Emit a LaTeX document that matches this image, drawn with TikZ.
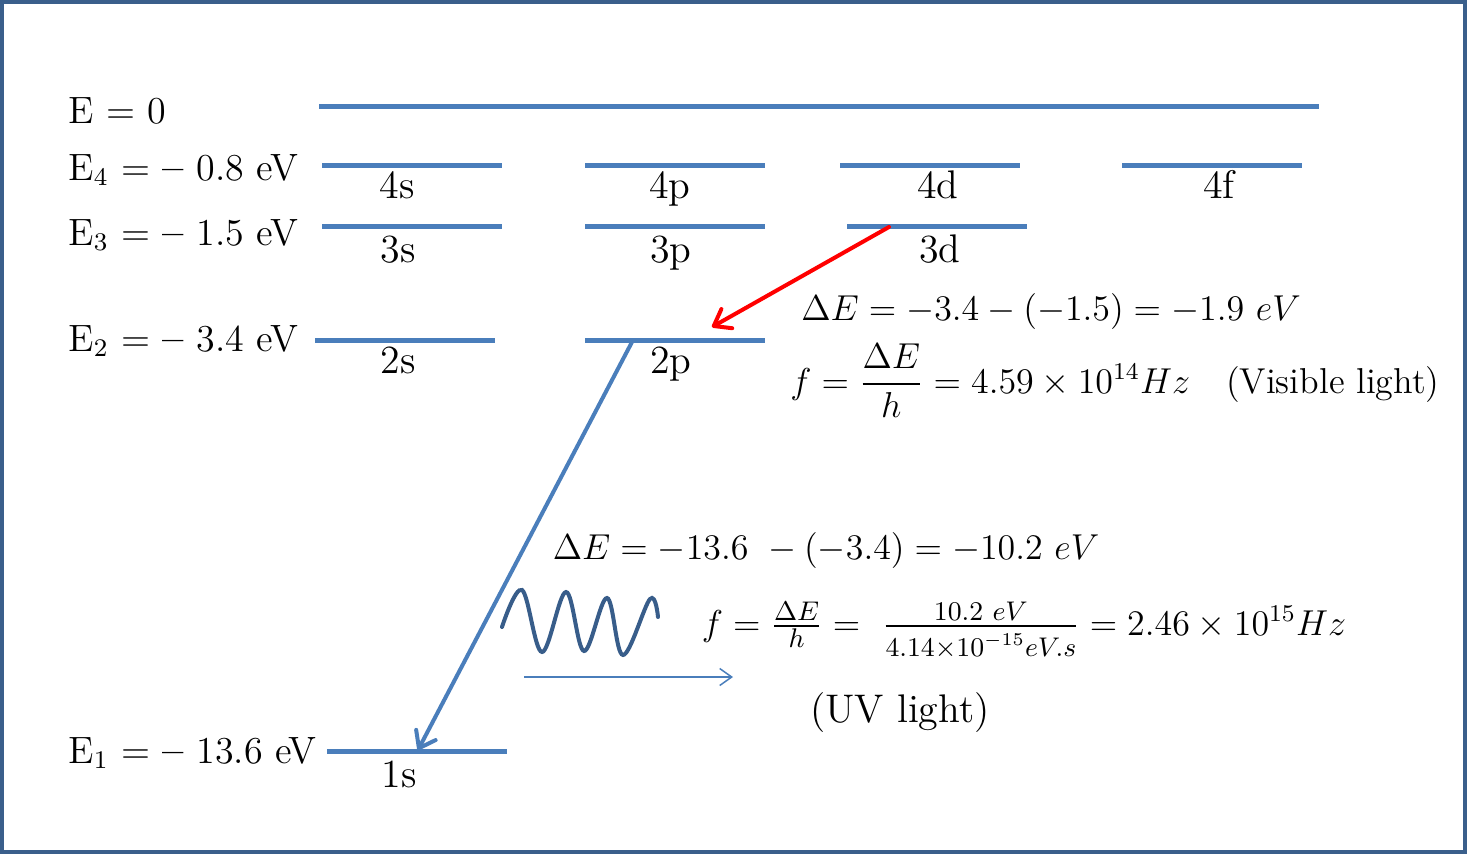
\documentclass[tikz,border=0pt]{standalone}
\usepackage{amsmath}
\usetikzlibrary{arrows.meta}
\definecolor{lvl}{HTML}{4A7EBB}
\definecolor{framecol}{HTML}{3A5F8B}
\definecolor{wavecol}{HTML}{385D8A}
\newcommand{\smallpart}[1]{\mbox{\fontsize{9}{11}\selectfont $#1$}}
\tikzset{
  level/.style={lvl, line width=5pt},
  lbl/.style={font=\fontsize{12}{14}\selectfont, scale=3.33, anchor=base, inner sep=0pt},
  elbl/.style={font=\fontsize{12}{14}\selectfont, scale=3.17, anchor=base west, inner sep=0pt},
  eqn/.style={font=\fontsize{12}{14}\selectfont, scale=3, anchor=base, inner sep=0pt},
  redarrow/.style={red, line width=4pt, line cap=round, -{Straight Barb[round,length=15pt,width=22pt]}},
  bluearrow/.style={lvl, line width=4pt, line cap=round, -{Straight Barb[round,length=15pt,width=22pt]}},
  thinarrow/.style={lvl, line width=1.5pt, -{Straight Barb[length=12pt,width=17pt]}},
  wave/.style={wavecol, line width=4pt, line cap=round},
}
\begin{document}
\begin{tikzpicture}[x=1pt,y=-1pt]
\useasboundingbox (0,0) rectangle (1467,854);
\draw[framecol, line width=3.8pt] (1.9,2) rectangle (1464.6,852);

% energy labels
\node[elbl] (e0) at (68,123) {E = 0};
\node[elbl] (e4) at (68,180) {E$_4$ = \textbf{--} 0.8 eV};
\node[elbl] (e3) at (68,245) {E$_3$ = \textbf{--} 1.5 eV};
\node[elbl] (e2) at (68,351) {E$_2$ = \textbf{--} 3.4 eV};
\node[elbl] (e1) at (68,763) {E$_1$ = \textbf{--} 13.6 eV};

% levels
\draw[level] (319,106.5) -- (1319,106.5);
\draw[level] (322,165) -- (502,165);
\draw[level] (585,165) -- (765,165);
\draw[level] (840,165) -- (1020,165);
\draw[level] (1122,165) -- (1302,165);
\draw[level] (322,226.7) -- (502,226.7);
\draw[level] (585,226.7) -- (765,226.7);
\draw[level] (847,226.7) -- (1027,226.7);
\draw[level] (315,340) -- (495,340);
\draw[level] (585,340) -- (765,340);
\draw[level] (327,751.5) -- (507,751.5);

% orbital labels
\node[lbl] (l4s) at (397,198) {4s};
\node[lbl] (l4p) at (670,198) {4p};
\node[lbl] (l4d) at (938,198) {4d};
\node[lbl] (l4f) at (1219,198) {4f};
\node[lbl] (l3s) at (398,262) {3s};
\node[lbl] (l3p) at (671,262) {3p};
\node[lbl] (l3d) at (940,262) {3d};
\node[lbl] (l2s) at (398,373) {2s};
\node[lbl] (l2p) at (671,373) {2p};
\node[lbl] (l1s) at (399,787) {1s};

% transitions
\coordinate (r0) at (889,227);
\coordinate (r1) at (712,327);
\draw[redarrow] (r0) -- (r1);
\coordinate (b0) at (632,342);
\coordinate (b1) at (418,750);
\draw[bluearrow] (b0) -- (b1);

% equations
\node[eqn] (dE1) at (1051,320) {$\Delta E = -3.4 - (-1.5) = -1.9\ eV$};
\node[eqn] (f1) at (1115,393) {$f = \dfrac{\Delta E}{h} = 4.59\times 10^{14} Hz$\quad (Visible light)};
\node[eqn] (dE2) at (826,559) {$\Delta E = -13.6\ - (-3.4) = -10.2\ eV$};
\node[eqn] (f2) at (1024,635) {$f = \frac{\smallpart{\Delta E}}{\smallpart{h}} = \ \frac{\smallpart{10.2\ eV}}{\smallpart{\rule{0pt}{9.5pt}4.14{\times}10^{-15} eV.s}} = 2.46\times10^{15} Hz$};
\node[lbl] (uv) at (900,722) {(UV light)};

% photon
\draw[wave] plot[smooth, tension=0.6] coordinates {(502,627) (522,590) (542,652) (566,592) (584,651) (607,598) (623,655) (650,599) (658,617)};
\coordinate (t0) at (524,677);
\coordinate (t1) at (733,677);
\draw[thinarrow] (t0) -- (t1);
\end{tikzpicture}
\end{document}
